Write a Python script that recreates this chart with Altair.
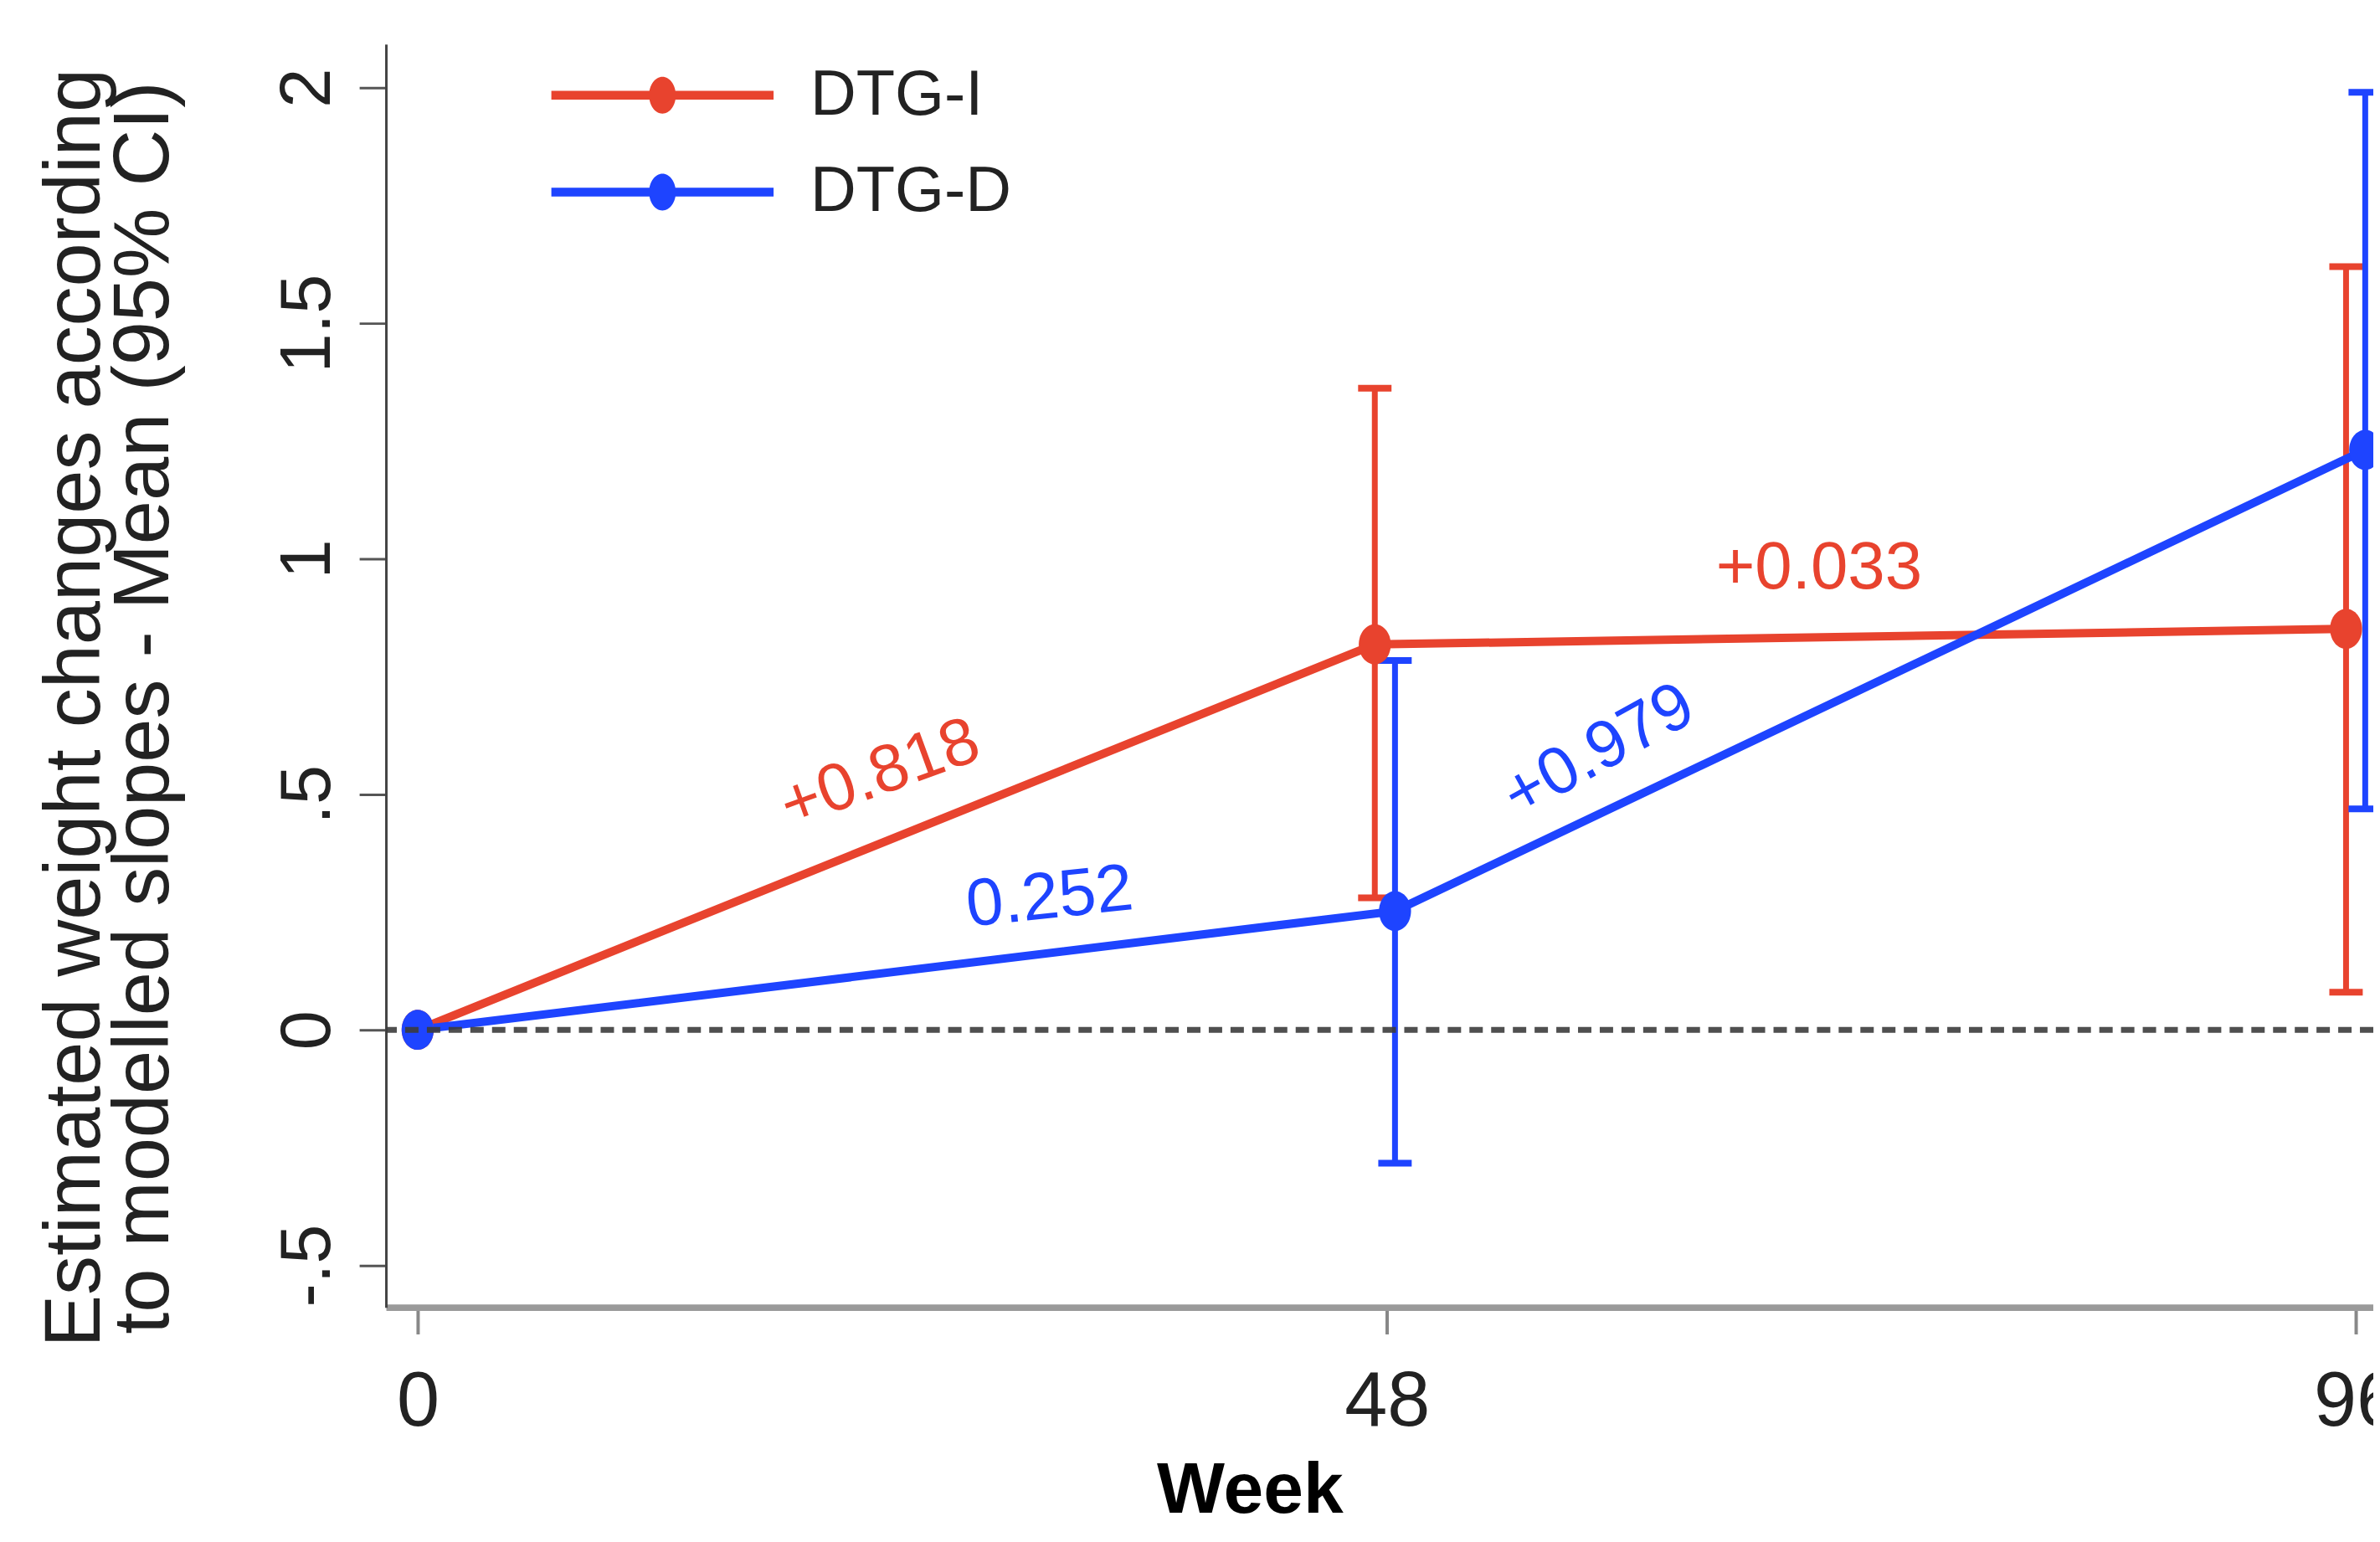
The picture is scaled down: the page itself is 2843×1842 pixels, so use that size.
import altair as alt
import pandas as pd

F = "Liberation Sans"

# ---- data ----
groups = ["DTG-I", "DTG-D"]
colors = ["#E8432E", "#1E44FF"]
weeks = [0, 48, 96]
# small horizontal dodge (weeks) of each group at each visit
shift_i = [0.0, -0.6, -0.5]
shift_d = [0.0, 0.4, 0.45]
mean_i = [0.0, 0.818, 0.851]
mean_d = [0.0, 0.252, 1.231]
# 95% CI at weeks 48 and 96
lo_i = [0.28, 0.08]
hi_i = [1.362, 1.62]
lo_d = [-0.283, 0.469]
hi_d = [0.784, 1.99]

ann_text = ["+0.818", "0.252", "+0.979", "+0.033"]
ann_group = ["DTG-I", "DTG-D", "DTG-D", "DTG-I"]
ann_x = [22.9, 31.3, 58.5, 69.4]
ann_y = [0.543, 0.280, 0.592, 0.98]
ann_angle = [340, 354, 331, 0]

y_ticks = [-0.5, 0, 0.5, 1, 1.5, 2]
x_ticks = [0, 48, 96]

# ---- tables ----
cmap = dict(zip(groups, colors))
rows, ci_rows, cap_rows = [], [], []
for g, sh, mu, lo, hi in [("DTG-I", shift_i, mean_i, lo_i, hi_i),
                          ("DTG-D", shift_d, mean_d, lo_d, hi_d)]:
    for k, w in enumerate(weeks):
        rows.append({"group": g, "hex": cmap[g], "x": w + sh[k], "mean": mu[k]})
    for k in range(2):
        xx = weeks[k + 1] + sh[k + 1]
        ci_rows.append({"group": g, "hex": cmap[g], "x": xx, "lo": lo[k], "hi": hi[k]})
        cap_rows.append({"group": g, "hex": cmap[g], "x": xx, "v": lo[k]})
        cap_rows.append({"group": g, "hex": cmap[g], "x": xx, "v": hi[k]})
pts = pd.DataFrame(rows)
ci = pd.DataFrame(ci_rows)
caps = pd.DataFrame(cap_rows)
ann = pd.DataFrame({"text": ann_text, "hex": [cmap[g] for g in ann_group],
                    "x": ann_x, "y": ann_y, "angle": ann_angle})
zero = pd.DataFrame({"y": [0.0]})

xs = alt.Scale(domain=[-1.572, 96.85], nice=False, zero=False)
ys = alt.Scale(domain=[-0.589, 2.092], nice=False, zero=False)

xaxis = alt.Axis(values=x_ticks, format="d", labelFontSize=92, labelFont=F,
                 labelColor="#222", labelPadding=36, labelFlush=False,
                 labelOverlap=False, labelBound=False, tickSize=32, tickWidth=4,
                 tickColor="#888", domainColor="#9a9a9a", domainWidth=8,
                 grid=False, title="Week", titleFont=F, titleFontSize=86,
                 titleFontWeight="bold", titleColor="#000", titleX=1034,
                 titleY=245, titleAlign="center", titleBaseline="alphabetic")
yaxis = alt.Axis(values=y_ticks,
                 labelExpr="datum.value == 0.5 ? '.5' : datum.value == -0.5 ? '-.5' : datum.value == 1.5 ? '1.5' : format(datum.value, 'd')",
                 labelAngle=270, labelAlign="center", labelBaseline="alphabetic",
                 labelFontSize=85, labelFont=F, labelColor="#222", labelPadding=36,
                 tickSize=32, tickWidth=3, tickColor="#555", domainColor="#444",
                 domainWidth=3, grid=False,
                 title=["Estimated weight changes according",
                        "to modelled slopes - Mean (95% CI)"],
                 titleFont=F, titleFontSize=94, titleFontWeight="normal",
                 titleColor="#222", titleAngle=270, titleX=-343, titleY=794,
                 titleAlign="center", titleBaseline="alphabetic", titleLineHeight=82)


def X(f):
    return alt.X(f, scale=xs, axis=xaxis)


def Y(f):
    return alt.Y(f, scale=ys, axis=yaxis)


ellipse = "M0,-1A0.8,1 0 1,1 0,1A0.8,1 0 1,1 0,-1Z"
legend_sym = ("M-6.65,-0.26H6.65V0.26H-6.65Z "
              "M0.8,0A0.8,1.1 0 1,1 -0.8,0A0.8,1.1 0 1,1 0.8,0Z")

layers = []
for g in groups:
    cg = ci[ci.group == g]
    capg = caps[caps.group == g]
    pg = pts[pts.group == g]
    layers.append(alt.Chart(cg).mark_rule(strokeWidth=7).encode(
        x=X("x:Q"), y=Y("lo:Q"), y2="hi:Q",
        color=alt.Color("hex:N", scale=None)))
    layers.append(alt.Chart(capg).mark_tick(orient="horizontal", size=40,
                                            thickness=8, opacity=1).encode(
        x=X("x:Q"), y=Y("v:Q"), color=alt.Color("hex:N", scale=None)))
    layers.append(alt.Chart(pg).mark_line(strokeWidth=10).encode(
        x=X("x:Q"), y=Y("mean:Q"), color=alt.Color("hex:N", scale=None)))

points = alt.Chart(pts).mark_point(shape=ellipse, filled=True, size=2304,
                                   opacity=1, strokeWidth=0).encode(
    x=X("x:Q"), y=Y("mean:Q"),
    color=alt.Color("group:N", scale=alt.Scale(domain=groups, range=colors),
                    legend=alt.Legend(title=None, orient="none", legendX=293,
                                      legendY=23, symbolType=legend_sym,
                                      symbolSize=1600, symbolStrokeWidth=0,
                                      symbolOpacity=1, labelFontSize=76,
                                      labelFont=F, labelColor="#222",
                                      labelOffset=139, labelLimit=600,
                                      rowPadding=40, padding=0,
                                      direction="vertical")))
layers.append(points)

zero_rule = alt.Chart(zero).mark_rule(strokeDash=[16, 10], strokeWidth=7,
                                      color="#3c3c3c", opacity=0.9).encode(y=Y("y:Q"))
layers.append(zero_rule)

texts = alt.Chart(ann).mark_text(font=F, fontSize=80, align="center",
                                 baseline="middle").encode(
    x=X("x:Q"), y=Y("y:Q"), text="text:N",
    angle=alt.Angle("angle:Q", scale=None),
    color=alt.Color("hex:N", scale=None))
layers.append(texts)

chart = alt.layer(*layers).properties(
    width=2379, height=1512,
    autosize=alt.AutoSizeParams(type="none"),
    padding={"left": 454, "top": 43, "right": 0, "bottom": 265},
    background="white",
).configure_view(stroke=None)

chart.save("out.html", embed_options={"renderer": "svg", "actions": False})
